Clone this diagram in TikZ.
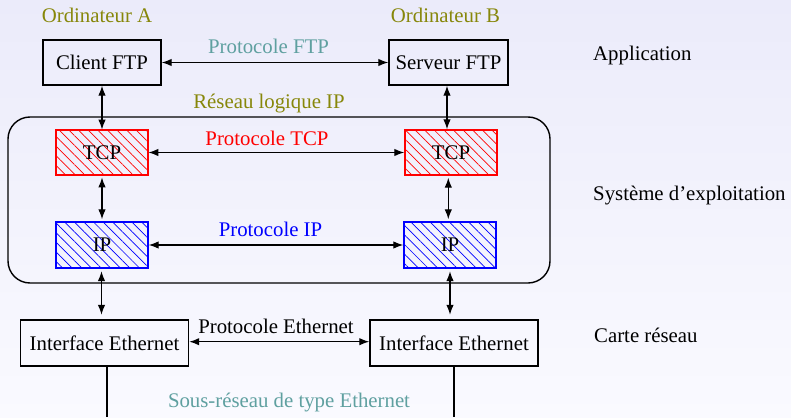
\documentclass[tikz,border=0pt]{standalone}
\usepackage{fontspec}
\setmainfont{Liberation Serif}
\usetikzlibrary{arrows.meta,patterns.meta}
\definecolor{bgtop}{RGB}{235,235,250}
\definecolor{bgbot}{RGB}{250,250,255}
\definecolor{olivetxt}{RGB}{135,135,10}
\definecolor{tealtxt}{RGB}{95,160,160}
\tikzset{
  box/.style={draw, line width=1.4pt, inner sep=0pt, minimum height=45pt},
  hatchbox/.style={draw=#1, line width=1.4pt, inner sep=0pt, minimum width=92pt, minimum height=45pt,
    pattern={Lines[angle=-45,distance=6.8pt,line width=0.7pt]}, pattern color=#1},
  lbl/.style={anchor=base, inner sep=0pt},
  rlbl/.style={anchor=base west, inner sep=0pt},
  conn/.style={line width=1.3pt, {Latex[length=10pt,width=7.5pt]}-{Latex[length=10pt,width=7.5pt]}},
  wire/.style={line width=1.3pt}
}
\begin{document}
\begin{tikzpicture}[x=1pt,y=-1pt,font=\fontsize{20.8}{25}\selectfont]
\useasboundingbox (0,0) rectangle (791,417);
\shade[top color=bgtop, bottom color=bgbot] (0,0) rectangle (791,417);

% OS rounded frame
\node (os) [draw, line width=1.4pt, rounded corners=22pt, minimum width=542pt, minimum height=166pt, inner sep=0pt] at (279,200) {};

% boxes
\node (client) [box, minimum width=118pt] at (102,62.5) {Client FTP};
\node (serveur) [box, minimum width=119pt] at (448.5,62.5) {Serveur FTP};
\node (tcpA) [hatchbox=red] at (102,152.5) {TCP};
\node (tcpB) [hatchbox=red] at (451,152.5) {TCP};
\node (ipA) [hatchbox=blue, minimum height=46pt] at (102,245) {IP};
\node (ipB) [hatchbox=blue, minimum height=46pt] at (450,245) {IP};
\node (ethA) [box, minimum width=168pt, minimum height=46pt] at (104.5,343) {Interface Ethernet};
\node (ethB) [box, minimum width=168pt, minimum height=46pt] at (454,343) {Interface Ethernet};

% bottom wire ends
\coordinate (wA) at (107,417);
\coordinate (wB) at (454,417);

% labels
\node (ordA) [lbl, text=olivetxt] at (97,22.7) {Ordinateur A};
\node (ordB) [lbl, text=olivetxt] at (445.5,22.2) {Ordinateur B};
\node (pftp) [lbl, text=tealtxt] at (268.5,54) {Protocole FTP};
\node (rlip) [lbl, text=olivetxt] at (269,109) {Réseau logique IP};
\node (ptcp) [lbl, text=red] at (267,145) {Protocole TCP};
\node (pip) [lbl, text=blue] at (270.5,236.7) {Protocole IP};
\node (peth) [lbl] at (276,333.3) {Protocole Ethernet};
\node (sre) [lbl, text=tealtxt] at (289,407.3) {Sous-réseau de type Ethernet};
\node (app) [rlbl] at (593,61) {Application};
\node (sys) [rlbl] at (593,200.7) {Système d’exploitation};
\node (carte) [rlbl] at (594,342.7) {Carte réseau};

% horizontal connectors
\draw[conn] (client) -- (serveur);
\draw[conn] (tcpA) -- (tcpB);
\draw[conn] (ipA) -- (ipB);
\draw[conn] (ethA.east |- 0,341.7) -- (ethB.west |- 0,341.7);

% vertical connectors
\draw[conn] (client.south) -- (client.south |- tcpA.north);
\draw[conn] (serveur.south -| 447,0) -- (tcpB.north -| 447,0);
\draw[conn, shorten <=2pt, shorten >=2pt] (tcpA.south) -- (ipA.north);
\draw[conn, shorten <=2pt, shorten >=2pt] (tcpB.south -| 448.3,0) -- (ipB.north -| 448.3,0);
\draw[conn, shorten <=2.5pt, shorten >=4.5pt] (ipA.south -| 101.5,0) -- (ethA.north -| 101.5,0);
\draw[conn, shorten <=2.5pt, shorten >=4.5pt] (ipB.south) -- (ethB.north -| ipB.south);

% ethernet wires
\draw[wire] (ethA.south -| wA) -- (wA);
\draw[wire] (ethB.south) -- (wB);
\end{tikzpicture}
\end{document}
